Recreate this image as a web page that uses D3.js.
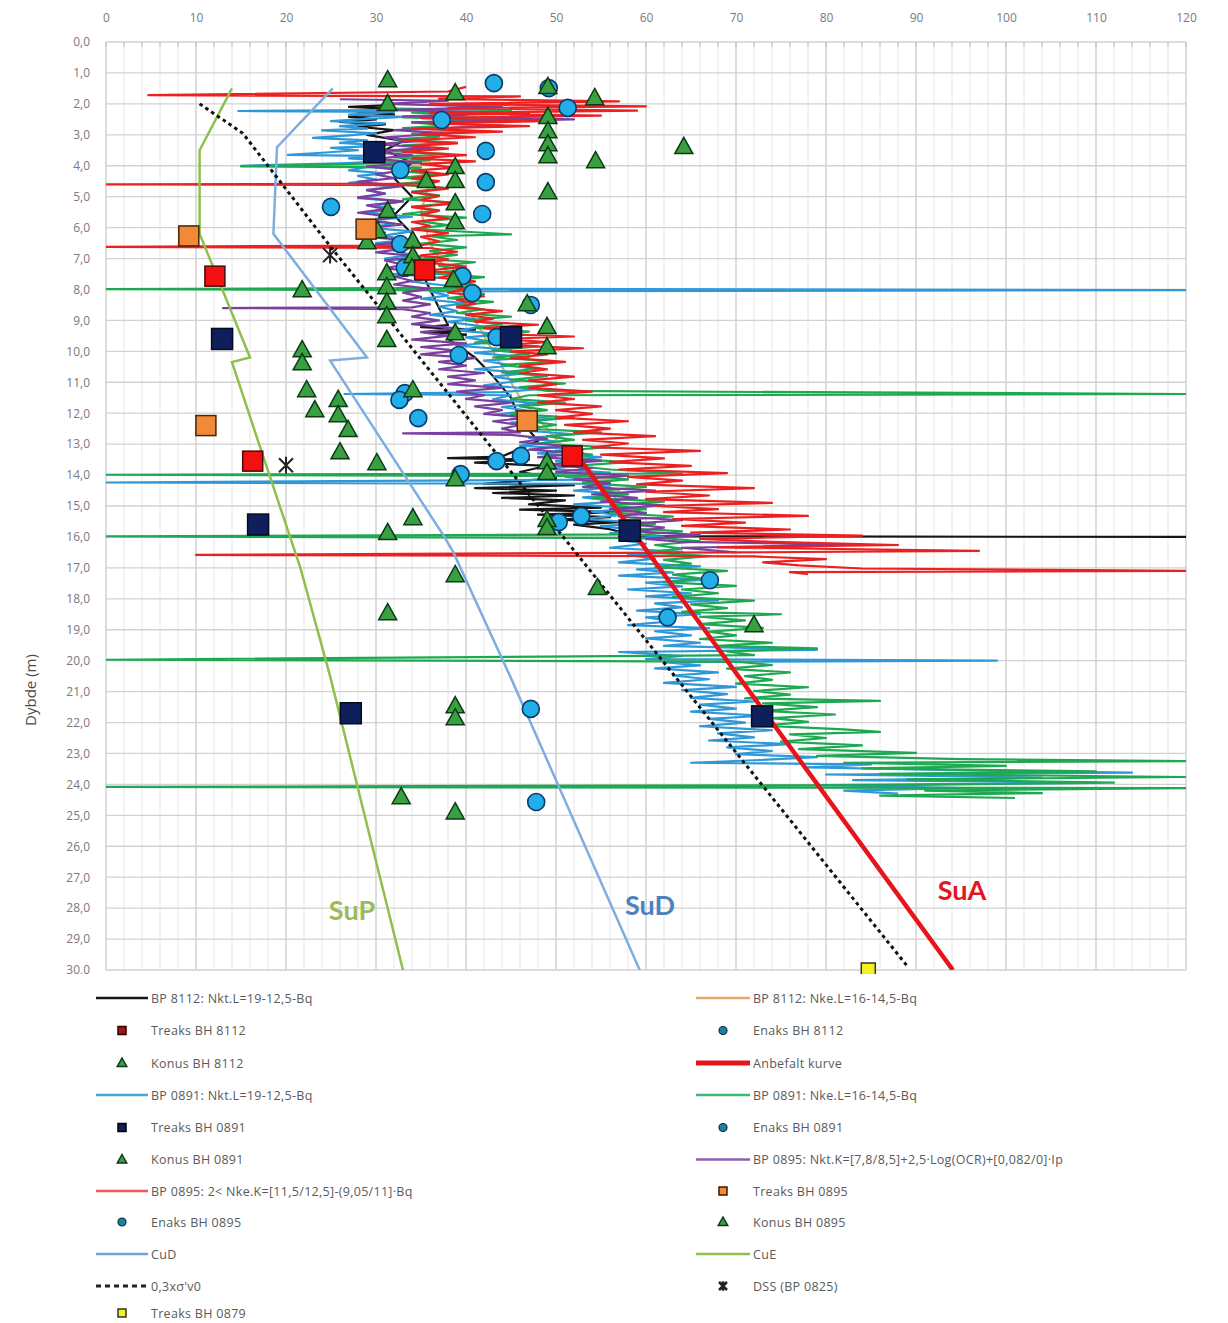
<!DOCTYPE html>
<html><head><meta charset="utf-8">
<script src="https://cdn.jsdelivr.net/npm/d3@7"></script>
<style>body{margin:0;background:#fff}svg{display:block}</style>
</head><body><svg id="c" width="1228" height="1323"></svg>
<script>
// ---------- DATA ----------
const xTicks = [0,10,20,30,40,50,60,70,80,90,100,110,120];
const depthTicks = [0,1,2,3,4,5,6,7,8,9,10,11,12,13,14,15,16,17,18,19,20,21,22,23,24,25,26,27,28,29,30];

// noisy series: [depth, value]
const bp8112NktL = [[2.05,31],[2.1,27],[2.18,33],[2.26,28],[2.34,32],[2.42,27],[2.5,30],[2.58,26],[2.66,31],[2.74,28],[2.85,32],[3.0,29],[3.2,33],[3.5,31],[3.9,34],[4.4,32],[5.0,34],[5.6,32],[6.2,34],[6.8,33],[7.4,35],[8.0,36],[8.6,37],[9.15,38],[9.22,35],[9.3,41],[9.38,36],[9.46,40],[9.6,38],[10.2,41],[10.8,43],[11.5,45],[12.2,46],[12.9,48],[13.4,44],[13.45,38],[13.5,47],[13.6,41],[13.7,49],[13.9,46],[14.1,50],[14.28,42],[14.33,52],[14.42,41],[14.5,50],[14.58,43],[14.66,52],[14.74,44],[14.82,51],[14.95,47],[15.05,55],[15.12,46],[15.2,57],[15.28,48],[15.36,56],[15.44,50],[15.52,57],[15.6,52],[15.75,56],[15.9,58],[15.98,57],[16.0,120]];
const bp8112NkeL = [[3.7,34],[3.78,36],[3.85,33],[3.92,37],[4.0,34],[4.5,36],[5.5,35],[6.5,36],[7.5,38],[8.5,40],[9.5,42],[10.5,44],[11.5,46],[12.5,49],[13.5,52],[14.1,54],[14.15,58],[14.2,53],[14.5,57],[15.0,56],[15.3,59]];
const bp0891NktL = [[2.2,30],[2.23,14.7],[2.26,32],[2.35,27],[2.42,33],[2.5,28],[2.56,25],[2.63,31],[2.72,26],[2.8,29],[2.86,24],[2.95,30],[3.02,27],[3.1,23],[3.18,29],[3.26,26],[3.35,31],[3.42,25],[3.5,28],[3.58,24],[3.65,20.2],[3.68,29],[3.76,27],[3.85,32],[3.92,26],[4.0,15],[4.04,29],[4.15,27],[4.25,31],[4.33,28],[4.45,30],[4.55,27],[4.68,32],[4.8,29],[4.9,31],[5.05,28],[5.15,33],[5.28,30],[5.4,32],[5.52,29],[5.65,34],[5.75,30],[5.88,32],[6.0,29],[6.12,34],[6.25,31],[6.4,33],[6.5,30],[6.62,35],[6.75,32],[6.88,34],[7.0,31],[7.12,36],[7.25,33],[7.38,35],[7.5,32],[7.62,37],[7.75,34],[7.88,38],[7.98,40],[8.02,120],[8.06,36],[8.2,38],[8.3,35],[8.45,40],[8.55,37],[8.7,39],[8.82,36],[8.95,41],[9.05,38],[9.2,42],[9.32,39],[9.45,44],[9.55,40],[9.7,43],[9.82,39],[9.95,45],[10.05,41],[10.2,47],[10.3,42],[10.45,45],[10.58,41],[10.7,47],[10.82,43],[10.95,46],[11.1,42],[11.22,48],[11.32,44],[11.38,26.5],[11.42,45],[11.55,43],[11.68,48],[11.8,44],[11.92,47],[12.05,43],[12.18,50],[12.3,45],[12.42,48],[12.55,46],[12.68,52],[12.8,47],[12.92,50],[13.05,46],[13.18,53],[13.3,48],[13.42,55],[13.55,50],[13.68,53],[13.8,49],[13.92,56],[14.05,51],[14.15,54],[14.24,0],[14.28,53],[14.4,56],[14.5,52],[14.62,58],[14.72,53],[14.85,57],[14.95,52],[15.08,59],[15.18,54],[15.3,57],[15.42,53],[15.55,60],[15.65,55],[15.78,59],[15.88,56],[16.0,62],[16.1,57],[16.22,60],[16.35,56],[16.48,64],[16.58,58],[16.7,61],[16.82,57],[16.95,66],[17.05,59],[17.15,63],[17.25,57],[17.38,67],[17.48,60],[17.6,64],[17.7,58],[17.82,65],[17.92,60],[18.05,68],[18.15,61],[18.28,64],[18.38,59],[18.5,66],[18.6,60],[18.72,63],[18.85,58],[18.95,67],[19.05,61],[19.18,65],[19.28,60],[19.42,66],[19.52,62],[19.65,79],[19.72,57],[19.85,64],[19.95,60],[20.0,99],[20.05,62],[20.15,66],[20.25,61],[20.38,68],[20.48,63],[20.6,67],[20.72,62],[20.85,70],[20.95,64],[21.08,69],[21.2,65],[21.32,72],[21.42,66],[21.55,70],[21.65,65],[21.78,73],[21.88,67],[22.0,71],[22.12,66],[22.25,74],[22.35,68],[22.48,72],[22.58,67],[22.7,76],[22.8,69],[22.92,74],[23.02,70],[23.12,79],[23.22,72],[23.3,65],[23.35,85],[23.45,78],[23.55,96],[23.62,114],[23.68,80],[23.78,104],[23.86,83],[23.95,110],[24.02,79],[24.12,95],[24.2,82],[24.3,88]];
const bp0891NkeL = [[2.15,32],[2.2,45],[2.28,34],[2.36,40],[2.44,33],[2.52,43],[2.6,34],[2.7,38],[2.78,33],[2.88,41],[2.96,34],[3.06,37],[3.15,32],[3.25,39],[3.34,33],[3.44,36],[3.52,31],[3.62,38],[3.72,32],[3.82,36],[3.92,31],[4.02,15],[4.06,35],[4.16,32],[4.28,37],[4.38,33],[4.5,36],[4.6,32],[4.72,38],[4.84,34],[4.96,37],[5.08,33],[5.2,39],[5.32,34],[5.44,37],[5.56,33],[5.68,40],[5.8,35],[5.92,38],[6.04,34],[6.15,41],[6.22,45],[6.28,36],[6.4,39],[6.52,35],[6.64,40],[6.76,36],[6.88,39],[7.0,35],[7.12,41],[7.24,37],[7.36,40],[7.48,36],[7.6,42],[7.72,38],[7.85,41],[7.95,39],[7.99,0],[8.03,39],[8.15,42],[8.28,38],[8.4,43],[8.52,39],[8.64,42],[8.76,39],[8.88,45],[9.0,40],[9.12,44],[9.24,41],[9.36,47],[9.48,42],[9.6,45],[9.72,41],[9.84,48],[9.96,43],[10.08,47],[10.2,43],[10.32,50],[10.44,44],[10.56,48],[10.68,44],[10.8,49],[10.92,45],[11.04,51],[11.16,46],[11.28,49],[11.38,120],[11.42,47],[11.54,45],[11.66,51],[11.78,46],[11.9,49],[12.02,45],[12.14,52],[12.26,47],[12.38,50],[12.5,47],[12.62,55],[12.74,49],[12.86,52],[12.98,48],[13.1,56],[13.22,50],[13.34,54],[13.46,51],[13.58,58],[13.7,52],[13.82,56],[13.95,64],[13.99,0],[14.03,54],[14.14,58],[14.26,53],[14.38,60],[14.5,55],[14.62,58],[14.74,54],[14.86,62],[14.98,56],[15.1,60],[15.22,56],[15.34,63],[15.46,57],[15.58,61],[15.7,57],[15.82,64],[15.92,60],[15.98,0],[16.04,62],[16.14,66],[16.26,61],[16.38,64],[16.5,60],[16.62,67],[16.74,62],[16.86,65],[16.98,61],[17.1,69],[17.22,63],[17.34,66],[17.46,62],[17.58,70],[17.7,64],[17.82,68],[17.94,63],[18.06,72],[18.18,65],[18.3,69],[18.42,64],[18.5,75],[18.58,66],[18.7,71],[18.82,66],[18.94,73],[19.06,67],[19.18,70],[19.3,66],[19.42,74],[19.52,68],[19.6,79],[19.7,69],[19.82,72],[19.97,0],[20.03,70],[20.14,74],[20.26,69],[20.38,76],[20.5,71],[20.62,74],[20.74,70],[20.86,78],[20.98,72],[21.1,76],[21.22,71],[21.3,86],[21.38,73],[21.5,79],[21.62,73],[21.74,81],[21.86,74],[21.98,78],[22.1,73],[22.22,82],[22.3,86],[22.38,76],[22.5,80],[22.62,75],[22.74,84],[22.86,77],[22.98,90],[23.08,79],[23.18,95],[23.25,120],[23.3,82],[23.4,100],[23.48,84],[23.58,110],[23.66,86],[23.76,120],[23.84,89],[23.94,112],[24.02,90],[24.08,0],[24.12,120],[24.2,91],[24.28,104],[24.36,86],[24.44,101]];
const bp0895NktK = [[1.85,26],[1.9,38],[2.0,31],[2.1,44],[2.2,32],[2.3,47],[2.4,33],[2.5,52],[2.6,34],[2.7,44],[2.85,32],[2.95,38],[3.08,31],[3.2,35],[3.3,30],[3.42,36],[3.55,29],[3.66,34],[3.78,30],[3.9,35],[4.02,29],[4.15,33],[4.28,30],[4.4,32],[4.52,28],[4.66,33],[4.78,29],[4.9,31],[5.02,28],[5.15,33],[5.28,29],[5.4,31],[5.52,28],[5.66,32],[5.78,29],[5.9,33],[6.02,29],[6.16,31],[6.3,29],[6.42,34],[6.55,30],[6.68,33],[6.8,30],[6.94,35],[7.06,31],[7.2,33],[7.32,31],[7.46,36],[7.58,32],[7.72,34],[7.84,32],[7.98,36],[8.1,33],[8.24,35],[8.36,33],[8.48,36],[8.58,34],[8.6,13],[8.64,33],[8.76,36],[8.88,34],[9.0,37],[9.12,34],[9.26,39],[9.38,35],[9.5,38],[9.62,34],[9.74,40],[9.86,35],[9.98,39],[10.1,35],[10.22,41],[10.34,37],[10.46,40],[10.58,37],[10.7,42],[10.82,38],[10.94,41],[11.06,38],[11.18,44],[11.3,39],[11.42,42],[11.54,40],[11.66,45],[11.78,41],[11.9,44],[12.02,42],[12.14,47],[12.26,43],[12.38,46],[12.5,44],[12.62,46],[12.65,33],[12.7,45],[12.82,49],[12.94,46],[13.06,51],[13.18,47],[13.3,53],[13.42,48],[13.54,55],[13.66,49],[13.78,54],[13.9,50],[14.02,58],[14.14,52],[14.26,56],[14.38,53],[14.5,61],[14.62,54],[14.74,59],[14.86,55],[14.98,62],[15.1,56],[15.22,60],[15.34,57],[15.46,64],[15.58,58],[15.7,62],[15.82,59],[15.94,66],[16.06,60],[16.16,64],[16.25,84],[16.35,64],[16.5,70]];
const bp0895NkeK = [[1.45,40],[1.6,38],[1.72,4.7],[1.76,46],[1.84,37],[1.92,57],[2.0,36],[2.08,60],[2.14,38],[2.22,59],[2.3,36],[2.38,55],[2.46,35],[2.55,50],[2.63,36],[2.72,47],[2.8,34],[2.9,44],[2.98,35],[3.08,41],[3.18,33],[3.28,39],[3.36,34],[3.45,38],[3.55,33],[3.66,40],[3.76,34],[3.86,41],[3.95,35],[4.06,39],[4.16,34],[4.28,38],[4.4,34],[4.5,37],[4.58,36],[4.6,0],[4.63,35],[4.74,38],[4.86,34],[4.98,37],[5.1,35],[5.22,39],[5.34,34],[5.46,37],[5.58,35],[5.7,38],[5.82,34],[5.94,36],[6.06,34],[6.18,38],[6.3,35],[6.44,37],[6.58,35],[6.62,0],[6.66,36],[6.78,39],[6.9,35],[7.02,38],[7.14,36],[7.26,40],[7.38,36],[7.5,39],[7.62,37],[7.74,41],[7.86,38],[7.98,40],[8.1,38],[8.22,42],[8.34,39],[8.46,41],[8.58,39],[8.7,44],[8.82,40],[8.94,43],[9.04,41],[9.14,48],[9.24,42],[9.34,46],[9.44,43],[9.52,52],[9.6,44],[9.7,49],[9.8,44],[9.9,53],[10.0,45],[10.1,49],[10.22,45],[10.34,51],[10.46,46],[10.58,49],[10.7,46],[10.82,52],[10.94,47],[11.06,50],[11.18,47],[11.3,54],[11.42,48],[11.54,52],[11.66,48],[11.78,55],[11.9,50],[12.02,54],[12.14,50],[12.26,58],[12.38,51],[12.5,56],[12.62,52],[12.74,61],[12.86,53],[12.98,58],[13.1,54],[13.22,66],[13.34,55],[13.46,62],[13.58,56],[13.7,65],[13.82,57],[13.94,69],[14.06,58],[14.18,64],[14.3,59],[14.42,72],[14.54,60],[14.66,67],[14.78,60],[14.9,74],[15.0,61],[15.1,68],[15.2,62],[15.32,78],[15.42,63],[15.54,71],[15.64,64],[15.76,76],[15.86,65],[15.96,84],[16.06,66],[16.16,74],[16.26,88],[16.34,68],[16.45,97],[16.5,70],[16.58,10],[16.63,72],[16.72,80],[16.82,73],[16.92,77],[17.02,84],[17.1,120],[17.14,76],[17.2,78]];

// design curves: [depth, value]
const curveSuP = [[1.5,14.0],[3.5,10.4],[6.2,10.4],[10.2,16.0],[10.35,14.0],[12.9,16.9],[17.0,21.6],[20.5,24.9],[30.0,33.0]];
const curveSuD = [[1.5,25.2],[3.4,19.0],[6.2,18.6],[10.2,29.0],[10.3,24.9],[16.0,37.6],[16.5,38.6],[20.5,44.9],[30.0,59.3]];
const curveSigma = [[2.0,10.4],[2.95,15.2],[6.6,24.9],[29.9,89.1]];
const curveSuA = [[13.5,52.7],[30.0,94.1]];

// markers: [value, depth]
const treaks8112 = [[12.1,7.57],[35.4,7.37],[16.3,13.55],[51.8,13.38]];
const treaks0891 = [[29.8,3.56],[12.9,9.6],[45.0,9.54],[16.9,15.6],[58.2,15.8],[27.2,21.7],[72.9,21.8]];
const treaks0895 = [[9.2,6.27],[28.9,6.05],[11.1,12.4],[46.8,12.25]];
const treaks0879 = [[84.7,30.0]];
const enaks8112 = [[43.1,1.33],[49.2,1.49],[51.3,2.13],[37.3,2.52],[42.2,3.52],[42.2,4.53],[41.8,5.56]];
const enaks0891 = [[32.7,4.14],[25.0,5.33],[32.7,6.53],[33.2,7.3],[39.6,7.57],[40.7,8.12],[47.2,8.5],[43.4,9.54],[39.2,10.12]];
const enaks0895 = [[33.2,11.35],[32.6,11.57],[34.7,12.16],[43.4,13.55],[46.1,13.38],[39.4,13.97],[50.3,15.52],[52.8,15.33],[67.1,17.4],[62.4,18.6],[47.2,21.56],[47.8,24.57]];
const konus8112 = [[49.1,1.45],[54.3,1.81],[49.1,2.42],[49.1,2.88],[49.1,3.3],[49.1,3.69],[64.2,3.39],[54.4,3.85],[49.1,4.85],[46.8,8.47],[49.0,9.21],[49.0,9.86],[49.0,13.58],[49.0,13.93],[49.0,15.45],[49.0,15.71],[54.6,17.65],[72.0,18.85]];
const konus0891 = [[38.8,1.65],[38.8,4.04],[38.8,4.49],[35.6,4.49],[38.8,5.21],[38.8,5.82],[34.1,6.43],[34.1,6.92],[34.0,7.31],[38.6,7.69],[38.8,9.41],[34.1,11.25],[38.8,14.13],[34.1,15.39],[38.8,17.23],[38.8,21.47],[38.8,21.86],[38.8,24.9]];
const konus0895 = [[31.3,1.23],[31.3,2.0],[31.3,5.46],[30.2,6.11],[29.0,6.47],[31.2,7.47],[31.2,7.92],[31.2,8.41],[31.2,8.86],[31.2,9.63],[21.8,8.02],[21.8,9.96],[21.8,10.38],[22.3,11.25],[23.2,11.9],[25.8,11.57],[25.8,12.06],[26.9,12.54],[26.0,13.26],[30.1,13.61],[31.3,15.87],[31.3,18.46],[32.8,24.41]];
const dss0825 = [[24.9,6.89],[20.0,13.68]];

// ---------- STYLES ----------
const C = {
  black:"#151515", orange:"#e7a868", blue:"#2f98d8", green:"#1fa852", purple:"#7b3f9e", red:"#ec2020",
  suP:"#8dc14c", suD:"#7eaee0", suA:"#e8141c",
  sqRed:"#f21010", sqNavy:"#0f1f5c", sqOrange:"#f08a38", sqYellow:"#f2f21e",
  circ:"#22aee8", circS:"#0d3a6a", tri:"#38a040", triS:"#0b3a14"
};

const svg = d3.select("#c");
const x = d3.scaleLinear().domain([0,120]).range([106,1186]);
const y = d3.scaleLinear().domain([0,30]).range([42,970]);

// grid
const grid = svg.append("g");
grid.selectAll(".vmin").data(d3.range(0,121,2)).join("line")
  .attr("x1",d=>x(d)).attr("x2",d=>x(d)).attr("y1",y(0)).attr("y2",y(30))
  .attr("stroke",d=>d%10===0?"#c6c6c6":"#e6e6e6").attr("stroke-width",d=>d%10===0?1.2:1);
grid.selectAll(".h").data(depthTicks).join("line")
  .attr("x1",x(0)).attr("x2",x(120)).attr("y1",d=>y(d)).attr("y2",d=>y(d))
  .attr("stroke","#d2d2d2").attr("stroke-width",1.3);
grid.selectAll(".tk").data(d3.range(0,121,2)).join("line")
  .attr("x1",d=>x(d)).attr("x2",d=>x(d)).attr("y1",y(0)).attr("y2",y(0)+5)
  .attr("stroke","#bbb");

// axes
const ax = svg.append("g").attr("transform",`translate(0,${y(0)})`)
  .call(d3.axisTop(x).tickValues(xTicks).tickSize(0).tickPadding(20));
ax.select(".domain").remove();
ax.selectAll("text").attr("fill","#7a7a7a").style("font","12px 'Open Sans'");
const ay = svg.append("g").attr("transform",`translate(${x(0)},0)`)
  .call(d3.axisLeft(y).tickValues(depthTicks).tickFormat(d=>d.toFixed(1).replace(".",",")).tickSize(0).tickPadding(16));
ay.select(".domain").remove();
ay.selectAll("text").attr("fill","#7a7a7a").style("font","12px 'Open Sans'");
svg.append("text").attr("transform","translate(36,690) rotate(-90)").attr("text-anchor","middle")
  .attr("fill","#4a4a4a").style("font","15px 'Open Sans'").text("Dybde (m)");

// clip
svg.append("clipPath").attr("id","pc").append("rect")
  .attr("x",x(0)).attr("y",y(0)).attr("width",x(120)-x(0)).attr("height",y(30)-y(0));
const plot = svg.append("g").attr("clip-path","url(#pc)");
const line = d3.line().x(d=>x(d[1])).y(d=>y(d[0]));

[[bp8112NktL,C.black],[bp8112NkeL,C.orange],[bp0891NktL,C.blue],[bp0891NkeL,C.green],[bp0895NktK,C.purple],[bp0895NkeK,C.red]]
 .forEach(([d,c])=>plot.append("path").datum(d).attr("d",line).attr("fill","none")
   .attr("stroke",c).attr("stroke-width",2.2).attr("stroke-linejoin","round"));

plot.append("path").datum(curveSuP).attr("d",line).attr("fill","none").attr("stroke",C.suP).attr("stroke-width",2.5);
plot.append("path").datum(curveSuD).attr("d",line).attr("fill","none").attr("stroke",C.suD).attr("stroke-width",2.5);
plot.append("path").datum(curveSigma).attr("d",line).attr("fill","none").attr("stroke","#111").attr("stroke-width",3).attr("stroke-dasharray","3.5,3.5");
plot.append("path").datum(curveSuA).attr("d",line).attr("fill","none").attr("stroke",C.suA).attr("stroke-width",4.5);

// marker helpers
function square(g,cx,cy,s,fill,stroke){g.append("rect").attr("x",cx-s/2).attr("y",cy-s/2).attr("width",s).attr("height",s).attr("fill",fill).attr("stroke",stroke).attr("stroke-width",1.5);}
function circ(g,cx,cy,r){g.append("circle").attr("cx",cx).attr("cy",cy).attr("r",r).attr("fill",C.circ).attr("stroke",C.circS).attr("stroke-width",1.6);}
function tri(g,cx,cy,s){g.append("path").attr("d",`M${cx},${cy-s}L${cx+s*0.95},${cy+s*0.7}L${cx-s*0.95},${cy+s*0.7}Z`).attr("fill",C.tri).attr("stroke",C.triS).attr("stroke-width",1.5);}
function star(g,cx,cy,s,w){g.append("path").attr("d",`M${cx-s},${cy-s}L${cx+s},${cy+s}M${cx+s},${cy-s}L${cx-s},${cy+s}M${cx},${cy-s*1.2}L${cx},${cy+s*1.2}`).attr("stroke","#222").attr("stroke-width",w).attr("fill","none");}

const mk = svg.append("g");
enaks8112.concat(enaks0891,enaks0895).forEach(d=>circ(mk,x(d[0]),y(d[1]),8.5));
konus8112.concat(konus0891,konus0895).forEach(d=>tri(mk,x(d[0]),y(d[1]),9.5));
treaks8112.forEach(d=>square(mk,x(d[0]),y(d[1]),20,C.sqRed,"#4a0a0a"));
treaks0891.forEach(d=>square(mk,x(d[0]),y(d[1]),21,C.sqNavy,"#050a20"));
treaks0895.forEach(d=>square(mk,x(d[0]),y(d[1]),20,C.sqOrange,"#4a2400"));
treaks0879.forEach(d=>square(mk,x(d[0]),y(d[1]),14,C.sqYellow,"#333"));
dss0825.forEach(d=>star(mk,x(d[0]),y(d[1]),7,2));

// curve labels
const lbl = svg.append("g").style("font","bold 27px Lato");
lbl.append("text").attr("x",352).attr("y",920).attr("text-anchor","middle").attr("fill","#9bbb59").text("SuP");
lbl.append("text").attr("x",650).attr("y",915).attr("text-anchor","middle").attr("fill","#4f81bd").text("SuD");
lbl.append("text").attr("x",962).attr("y",900).attr("text-anchor","middle").attr("fill","#e3161e").text("SuA");

// legend
svg.append("rect").attr("x",0).attr("y",974).attr("width",1228).attr("height",349).attr("fill","#fff");
const legLeft = [
 ["line","BP 8112: Nkt.L=19-12,5-Bq",C.black],
 ["sqRed","Treaks BH 8112"],
 ["tri","Konus BH 8112"],
 ["line","BP 0891: Nkt.L=19-12,5-Bq","#4aa3dc"],
 ["sqNavy","Treaks BH 0891"],
 ["tri","Konus BH 0891"],
 ["line","BP 0895: 2< Nke.K=[11,5/12,5]-(9,05/11]·Bq","#ef5a5a"],
 ["circ","Enaks BH 0895"],
 ["line","CuD","#6fa3dc"],
 ["dash","0,3xσ'v0"],
 ["sqYellow","Treaks BH 0879"]
];
const legRight = [
 ["line","BP 8112: Nke.L=16-14,5-Bq",C.orange],
 ["circ","Enaks BH 8112"],
 ["thick","Anbefalt kurve",C.suA],
 ["line","BP 0891: Nke.L=16-14,5-Bq","#3cb878"],
 ["circ","Enaks BH 0891"],
 ["line","BP 0895: Nkt.K=[7,8/8,5]+2,5·Log(OCR)+[0,082/0]·Ip","#8e5fb0"],
 ["sqOrange","Treaks BH 0895"],
 ["tri","Konus BH 0895"],
 ["line","CuE",C.suP],
 ["star","DSS (BP 0825)"]
];
const rowY = [998,1030.5,1063,1095,1127.5,1159.5,1191,1222,1254,1286,1313];
const leg = svg.append("g");
function legendCol(items,x0,x1,tx){
  items.forEach((it,i)=>{
    const yy = rowY[i], mx=(x0+x1)/2, t=it[0];
    if(t==="line") leg.append("line").attr("x1",x0).attr("x2",x1).attr("y1",yy).attr("y2",yy).attr("stroke",it[2]).attr("stroke-width",2.5);
    if(t==="thick") leg.append("line").attr("x1",x0).attr("x2",x1).attr("y1",yy).attr("y2",yy).attr("stroke",it[2]).attr("stroke-width",5);
    if(t==="dash") leg.append("line").attr("x1",x0).attr("x2",x1).attr("y1",yy).attr("y2",yy).attr("stroke","#222").attr("stroke-width",3).attr("stroke-dasharray","5,4");
    if(t==="sqRed") square(leg,mx,yy,8,"#a01515","#300");
    if(t==="sqNavy") square(leg,mx,yy,8,C.sqNavy,"#000");
    if(t==="sqOrange") square(leg,mx,yy,8,C.sqOrange,"#3a1a00");
    if(t==="sqYellow") square(leg,mx,yy,8,C.sqYellow,"#333");
    if(t==="tri") tri(leg,mx,yy,5);
    if(t==="circ") leg.append("circle").attr("cx",mx).attr("cy",yy).attr("r",4).attr("fill","#1f7f9a").attr("stroke","#0b2d44").attr("stroke-width",1.2);
    if(t==="star") star(leg,mx,yy,4,2.5);
    leg.append("text").attr("x",tx).attr("y",yy+4.5).attr("fill","#5a5a5a").style("font","12.5px 'Open Sans'").style("letter-spacing","0.3px").text(it[1]);
  });
}
legendCol(legLeft,96,148,151);
legendCol(legRight,696,750,753);
</script></body></html>
